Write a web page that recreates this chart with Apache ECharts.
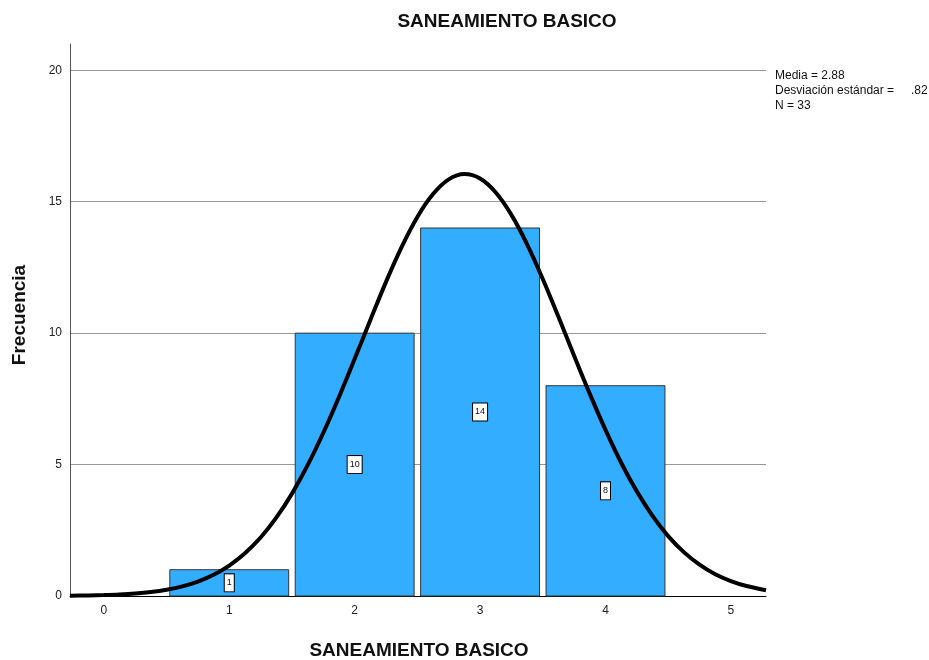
<!DOCTYPE html>
<html>
<head>
<meta charset="utf-8">
<script src="https://cdn.jsdelivr.net/npm/echarts@6/dist/echarts.min.js"></script>
<style>html,body{margin:0;padding:0;background:#fff}#c{width:929px;height:660px}</style>
</head>
<body>
<div id="c"></div>
<script>
// Data
const categories = [1, 2, 3, 4];
const frequencies = [1, 10, 14, 8];
// normal curve points
const curveX = [-0.27, -0.125, 0, 0.125, 0.25, 0.375, 0.5, 0.625, 0.75, 0.875, 1, 1.125, 1.25, 1.375, 1.5, 1.625, 1.75, 1.875, 2, 2.125, 2.25, 2.375, 2.5, 2.625, 2.75, 2.875, 3, 3.125, 3.25, 3.375, 3.5, 3.625, 3.75, 3.875, 4, 4.125, 4.25, 4.375, 4.5, 4.625, 4.75, 4.875, 5, 5.125, 5.28];
const curveY = [0.01, 0.019, 0.034, 0.057, 0.094, 0.151, 0.238, 0.366, 0.55, 0.808, 1.159, 1.625, 2.224, 2.979, 3.895, 4.976, 6.21, 7.574, 9.023, 10.5, 11.95, 13.28, 14.42, 15.29, 15.85, 16.05, 15.88, 15.35, 14.5, 13.38, 12.06, 10.62, 9.14, 7.69, 6.32, 5.07, 3.98, 3.05, 2.28, 1.67, 1.19, 0.83, 0.57, 0.38, 0.22];
const gridValues = [5, 10, 15, 20];
const statsLabels = ['Media = ', 'Desviación estándar = ', 'N = '];
const statsValues = ['2.88', '.82', '33'];
const titleText = 'SANEAMIENTO BASICO';
const xName = 'SANEAMIENTO BASICO';
const yName = 'Frecuencia';

const FONT = '"Liberation Sans", Arial, sans-serif';
const chart = echarts.init(document.getElementById('c'), null, {renderer: 'canvas'});
const barHalf = 0.474;

chart.setOption({
  animation: false,
  backgroundColor: '#fff',
  grid: {left: 70, right: 163, top: 44, bottom: 64},
  xAxis: {
    type: 'value', min: -0.27, max: 5.28, minInterval: 1, maxInterval: 1,
    axisLine: {show: true, onZero: false, lineStyle: {color: '#000', width: 1}},
    axisTick: {show: false},
    splitLine: {show: false},
    axisLabel: {color: '#222', fontSize: 12, fontFamily: FONT, margin: 9,
      formatter: v => Number.isInteger(v) ? String(v) : ''}
  },
  yAxis: {
    type: 'value', min: 0, max: 21, minInterval: 5, maxInterval: 5,
    axisLine: {show: true, onZero: false, lineStyle: {color: '#555', width: 1}},
    axisTick: {show: false},
    splitLine: {show: false},
    axisLabel: {color: '#222', fontSize: 12, fontFamily: FONT, margin: 8,
      formatter: v => (v % 5 === 0) ? String(v) : ''}
  },
  series: [
    {
      type: 'line', z: 0, data: [], silent: true,
      markLine: {
        z: 0, zlevel: 0,
        silent: true, symbol: 'none', label: {show: false},
        lineStyle: {color: '#999', width: 1, type: 'solid'},
        data: gridValues.map(v => ({yAxis: v}))
      }
    },
    {
      type: 'custom',
      z: 3,
      data: categories.map((c, i) => [c, frequencies[i]]),
      renderItem: function (params, api) {
        const x = api.value(0), y = api.value(1);
        const p1 = api.coord([x - barHalf, y]);
        const p2 = api.coord([x + barHalf, 0]);
        const mid = api.coord([x, y / 2]);
        return {
          type: 'group',
          children: [
            {type: 'rect', shape: {x: p1[0], y: p1[1], width: p2[0] - p1[0], height: p2[1] - p1[1]},
             style: {fill: '#33adff', stroke: '#333', lineWidth: 1}},
            {type: 'text', x: mid[0], y: mid[1],
             style: {text: String(y), fill: '#111', font: '9px ' + FONT, align: 'center', verticalAlign: 'middle',
               backgroundColor: '#fff', borderColor: '#000', borderWidth: 1, padding: [4, 2, 4, 2]}}
          ]
        };
      }
    },
    {
      type: 'line', z: 5, smooth: 0.3, symbol: 'none', clip: true,
      lineStyle: {color: '#000', width: 4, cap: 'butt'},
      data: curveX.map((x, i) => [x, curveY[i]])
    }
  ],
  graphic: [
    {type: 'text', x: 507, y: 12, style: {text: titleText, font: 'bold 19px ' + FONT, fill: '#111', align: 'center'}},
    {type: 'text', x: 419, y: 641, style: {text: xName, font: 'bold 19px ' + FONT, fill: '#111', align: 'center'}},
    {type: 'text', x: 10, y: 315, rotation: Math.PI / 2, style: {text: yName, font: 'bold 19px ' + FONT, fill: '#111', align: 'center', verticalAlign: 'top'}},
    {type: 'text', left: 775, top: 70, style: {text: statsLabels[0] + statsValues[0], font: '12px ' + FONT, fill: '#111'}},
    {type: 'text', left: 775, top: 85, style: {text: statsLabels[1], font: '12px ' + FONT, fill: '#111'}},
    {type: 'text', left: 911, top: 85, style: {text: statsValues[1], font: '12px ' + FONT, fill: '#111'}},
    {type: 'text', left: 775, top: 100, style: {text: statsLabels[2] + statsValues[2], font: '12px ' + FONT, fill: '#111'}}
  ]
});
</script>
</body>
</html>
